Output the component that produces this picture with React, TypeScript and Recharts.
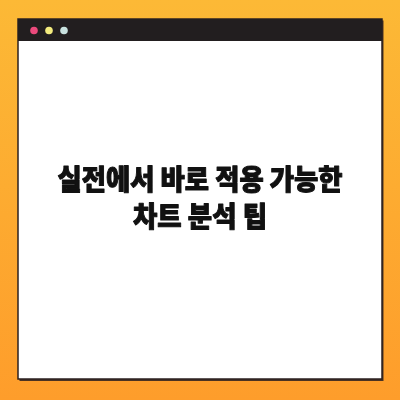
import React from "react";
import { Surface, Rectangle, Dot, Layer } from "recharts";

const titleLines = ["실전에서 바로 적용 가능한", "차트 분석 팁"];
const lineWidths = [285, 134];
const lineBaselines = [189.5, 226.5];
const dotColors = ["#EC4A7C", "#F4EC7E", "#C9E2DF"];
const dotXs = [34, 49, 64];

export default function App() {
  return (
    <div style={{ position: "fixed", left: 0, top: 0, width: 400, height: 400 }}>
      <Surface width={400} height={400}>
        <defs>
          <linearGradient id="bg" x1="0" y1="0" x2="0" y2="1">
            <stop offset="0%" stopColor="#FCB936" />
            <stop offset="100%" stopColor="#FE9D2B" />
          </linearGradient>
        </defs>
        <Rectangle x={0} y={0} width={400} height={400} fill="url(#bg)" />
        <Layer>
          <Rectangle x={19.5} y={20.5} width={364} height={360.5} fill="#4a3222" />
          <Rectangle x={18} y={19} width={364} height={360} fill="#FFFFFF" stroke="#2b2120" strokeWidth={1.5} />
          <Rectangle x={18} y={19} width={364} height={22} fill="#221E1F" />
          {dotColors.map((c, i) => (
            <Dot key={i} cx={dotXs[i]} cy={30.5} r={3.8} fill={c} />
          ))}
        </Layer>
        {titleLines.map((t, i) => (
          <text
            key={i}
            x={200}
            y={lineBaselines[i]}
            textAnchor="middle"
            textLength={lineWidths[i]}
            lengthAdjust="spacingAndGlyphs"
            fontFamily="'Noto Sans CJK KR', sans-serif"
            fontWeight={900}
            fontSize={28}
            fill="#111111"
            stroke="#111111"
            strokeWidth={1}
            strokeLinejoin="round"
          >
            {t}
          </text>
        ))}
      </Surface>
    </div>
  );
}
